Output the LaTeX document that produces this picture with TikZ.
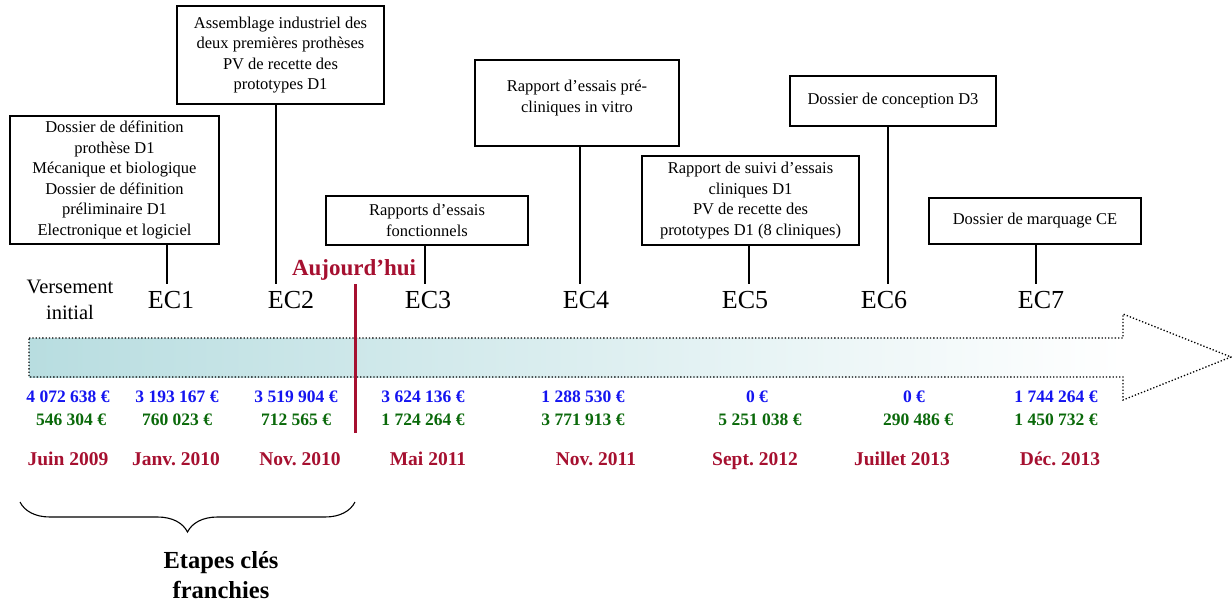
\documentclass[tikz,border=0pt]{standalone}
\usepackage{fontspec}
\setmainfont{Liberation Serif}
\frenchspacing
\usetikzlibrary{decorations.pathreplacing}
\definecolor{dred}{RGB}{166,16,48}
\definecolor{dblue}{RGB}{20,20,240}
\definecolor{dgreen}{RGB}{10,105,10}
\definecolor{tealA}{RGB}{184,221,224}
\tikzset{
  x=1pt, y=-1pt,
  box/.style={draw, line width=1.4pt, align=center, inner sep=2pt,
    font=\fontsize{16.5}{20.6}\selectfont},
  boxtext/.style={align=center, inner sep=0pt, font=\fontsize{16.5}{20.6}\selectfont},
  eclab/.style={font=\fontsize{26}{28}\selectfont, inner sep=0pt},
  tick/.style={line width=1.4pt},
  amtB/.style={text=dblue, font=\bfseries\fontsize{17.5}{18}\selectfont, inner sep=0pt, anchor=base},
  amtG/.style={text=dgreen, font=\bfseries\fontsize{17.5}{18}\selectfont, inner sep=0pt, anchor=base},
  datelab/.style={text=dred, font=\bfseries\fontsize{19.5}{20}\selectfont, inner sep=0pt, anchor=base},
}
\begin{document}
\begin{tikzpicture}
\useasboundingbox (0,0) rectangle (1232,603);

% big arrow
\shade[left color=tealA, right color=white]
  (29,338) rectangle (1123,377);
\draw[dotted, line width=1.3pt]
  (29,338) -- (1123,338) -- (1123,314) -- (1231,357) -- (1123,400) -- (1123,377) -- (29,377) -- cycle;

% boxes
\node[box, minimum width=209pt, minimum height=128pt] (b1) at (114.5,180)
  {Dossier de définition\\prothèse D1\\Mécanique et biologique\\Dossier de définition\\préliminaire D1\\Electronique et logiciel};
\node[box, minimum width=207pt, minimum height=98pt] (b2) at (280.5,55)
  {Assemblage industriel des\\deux premières prothèses\\PV de recette des\\prototypes D1};
\node[box, minimum width=202pt, minimum height=49pt] (b3) at (427,220.5)
  {Rapports d’essais\\fonctionnels};
\node[box, minimum width=204pt, minimum height=86pt] (b4) at (577,103) {};
\node[boxtext] (b4t) at ([yshift=5pt]b4.center) {Rapport d’essais pré-\\cliniques in vitro};
\node[box, minimum width=217pt, minimum height=89pt] (b5) at (750.5,200.5)
  {Rapport de suivi d’essais\\cliniques D1\\PV de recette des\\prototypes D1 (8 cliniques)};
\node[box, minimum width=206pt, minimum height=50pt] (b6) at (893,101)
  {Dossier de conception D3};
\node[box, minimum width=212pt, minimum height=46pt] (b7) at (1035,221)
  {Dossier de marquage CE};

% EC labels
\node[font=\fontsize{20.5}{26}\selectfont, align=center, inner sep=0pt] (vi) at (70,300) {Versement\\initial};
\node[eclab] (ec1) at (171,300) {EC1};
\node[eclab] (ec2) at (291,300) {EC2};
\node[eclab] (ec3) at (428,300) {EC3};
\node[eclab] (ec4) at (586,300) {EC4};
\node[eclab] (ec5) at (745,300) {EC5};
\node[eclab] (ec6) at (884,300) {EC6};
\node[eclab] (ec7) at (1041,300) {EC7};

% ticks
\coordinate (t1) at (167,284);
\coordinate (t2) at (276,284);
\coordinate (t3) at (425,284);
\coordinate (t4) at (580,284);
\coordinate (t5) at (749,284);
\coordinate (t6) at (888,284);
\coordinate (t7) at (1036,284);
\draw[tick] (b1.south -| t1) -- (t1);
\draw[tick] (b2.south -| t2) -- (t2);
\draw[tick] (b3.south -| t3) -- (t3);
\draw[tick] (b4.south -| t4) -- (t4);
\draw[tick] (b5.south -| t5) -- (t5);
\draw[tick] (b6.south -| t6) -- (t6);
\draw[tick] (b7.south -| t7) -- (t7);

% today
\node[text=dred, font=\bfseries\fontsize{23}{24}\selectfont, inner sep=0pt] (today) at (354,270) {Aujourd’hui};
\coordinate (todayEnd) at (355,433);
\draw[dred, line width=3pt] (355,284) -- (todayEnd);

% amounts
\node[amtB] (a1) at (68,402) {4 072 638 €};
\node[amtG] (g1) at (71,425) {546 304 €};
\node[datelab] (d1) at (68,465) {Juin 2009};
\node[amtB] (a2) at (177,402) {3 193 167 €};
\node[amtG] (g2) at (177,425) {760 023 €};
\node[datelab] (d2) at (176,465) {Janv. 2010};
\node[amtB] (a3) at (296,402) {3 519 904 €};
\node[amtG] (g3) at (296,425) {712 565 €};
\node[datelab] (d3) at (300,465) {Nov. 2010};
\node[amtB] (a4) at (423,402) {3 624 136 €};
\node[amtG] (g4) at (423,425) {1 724 264 €};
\node[datelab] (d4) at (428,465) {Mai 2011};
\node[amtB] (a5) at (583,402) {1 288 530 €};
\node[amtG] (g5) at (583,425) {3 771 913 €};
\node[datelab] (d5) at (596,465) {Nov. 2011};
\node[amtB] (a6) at (757,402) {0 €};
\node[amtG] (g6) at (760,425) {5 251 038 €};
\node[datelab] (d6) at (755,465) {Sept. 2012};
\node[amtB] (a7) at (914,402) {0 €};
\node[amtG] (g7) at (918,425) {290 486 €};
\node[datelab] (d7) at (902,465) {Juillet 2013};
\node[amtB] (a8) at (1056,402) {1 744 264 €};
\node[amtG] (g8) at (1056,425) {1 450 732 €};
\node[datelab] (d8) at (1060,465) {Déc. 2013};

% brace
\draw[line width=1.1pt, decorate, decoration={brace, mirror, amplitude=30pt}] (20,502) -- (355,502);
\node[font=\bfseries\fontsize{24.5}{30}\selectfont, align=center, inner sep=0pt] (etapes) at (221,575) {Etapes clés\\franchies};
\end{tikzpicture}
\end{document}
